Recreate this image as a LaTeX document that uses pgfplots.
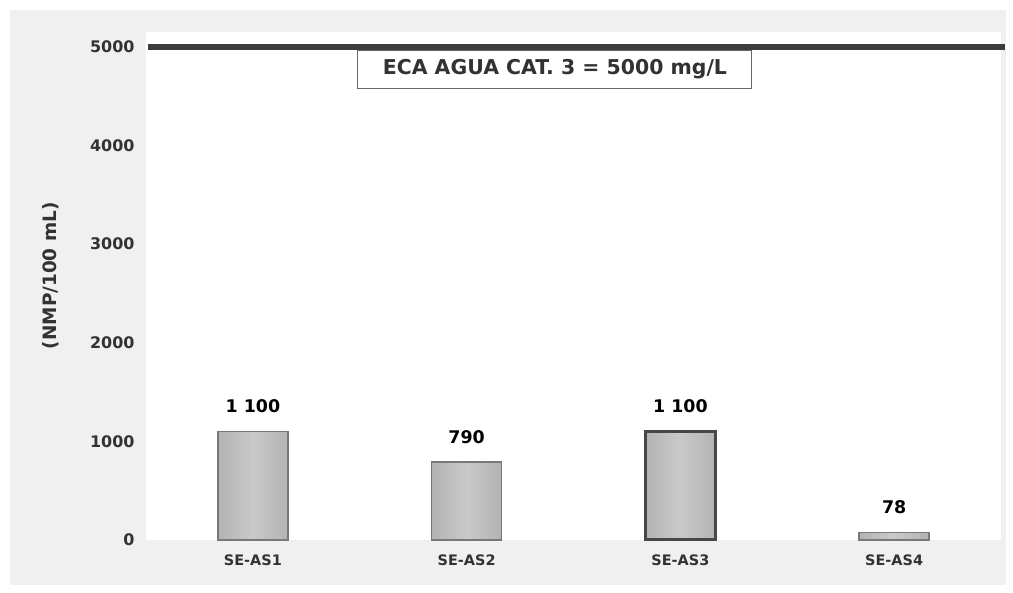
\documentclass[border=0pt]{standalone}
\usepackage{fontspec}
\setmainfont{DejaVu Sans}
\usepackage{pgfplots}
\pgfplotsset{compat=1.18}

\definecolor{baredge}{RGB}{120,120,120}
\definecolor{limline}{RGB}{60,60,60}
\definecolor{panel}{RGB}{240,240,240}
\definecolor{ticktxt}{RGB}{50,50,50}

\pgfplotsset{
  grey bar/.style={ybar, bar width=70bp, bar shift=0pt,
    left color=black!30, right color=black!30, middle color=black!21,
    draw=baredge, line width=1.5bp},
}

\begin{document}
\begin{tikzpicture}[x=1bp,y=1bp]
\path[use as bounding box] (0,0) rectangle (1013,593);
\fill[panel] (10,8) rectangle (1006,583);

\begin{axis}[%
width=855bp,
height=508bp,
scale only axis,
at={(146bp,53bp)},
anchor=south west,
axis background/.style={fill=white},
axis line style={draw=none},
major tick style={draw=none},
xmin=-0.5, xmax=3.5,
ymin=0, ymax=5150,
xtick={0,1,2,3},
xticklabels={SE-AS1,SE-AS2,SE-AS3,SE-AS4},
ytick={0,1000,2000,3000,4000,5000},
/pgf/number format/assume math mode=true,
scaled y ticks=false,
yticklabel={\pgfmathprintnumber[1000 sep={}]{\tick}},
every x tick label/.append style={font=\fontsize{14.5}{17}\selectfont\bfseries\color{ticktxt}, yshift=-11bp},
every y tick label/.append style={font=\fontsize{16}{19}\selectfont\bfseries\color{ticktxt}, xshift=-8bp},
ylabel={(NMP/100 mL)},
ylabel style={font=\fontsize{18.5}{22}\selectfont\bfseries\color{ticktxt}, at={(ticklabel cs:0.52)}, yshift=24bp},
clip=false,
]

% bars, one plot each so the shading sits on each bar
\addplot[grey bar] coordinates {(0,1100)};
\addplot[grey bar] coordinates {(1,790)};
\addplot[grey bar, draw=black!72, line width=3bp] coordinates {(2,1100)};
\addplot[grey bar] coordinates {(3,78)};

% value labels
\addplot[only marks, mark=none, nodes near coords,
  point meta=explicit symbolic,
  every node near coord/.append style={font=\fontsize{17.5}{21}\selectfont\bfseries, anchor=south, yshift=15bp}]
  coordinates {(0,1100) [1 100] (1,790) [790] (2,1100) [1 100] (3,78) [78]};

% limit line
\addplot[limline, line width=6bp] coordinates {(-0.49,5000) (3.52,5000)};

\node[draw=black!60, fill=white, line width=1bp, anchor=north, minimum width=394bp, minimum height=38bp,
  font=\fontsize{20.5}{24}\selectfont\bfseries\color{ticktxt}] at (axis cs:1.413,4970) {ECA AGUA CAT. 3 = 5000 mg/L};
\end{axis}
\end{tikzpicture}
\end{document}
